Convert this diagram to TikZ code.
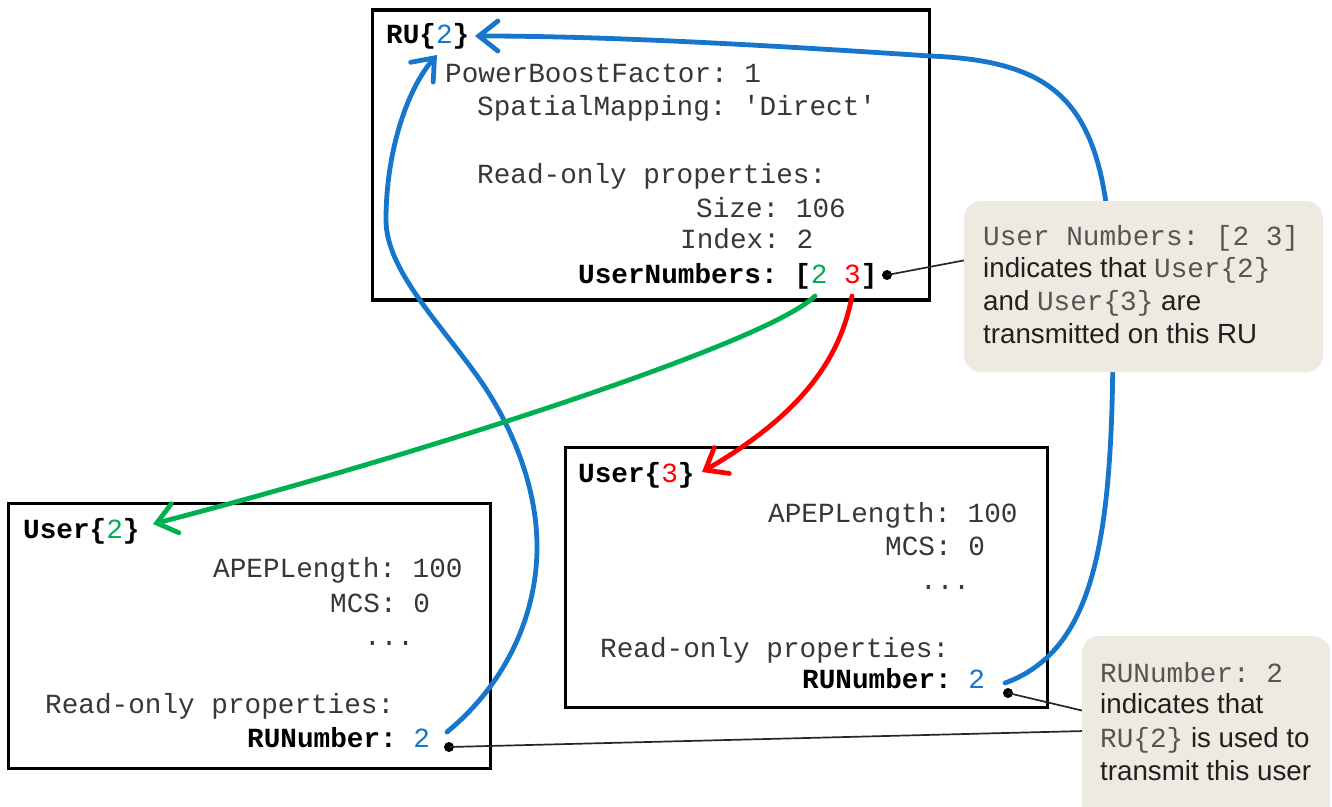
\documentclass[tikz,border=0pt]{standalone}
\usepackage{fontspec}
\setmainfont{Liberation Sans}
\setsansfont{Liberation Sans}
\setmonofont{Liberation Mono}
\usetikzlibrary{arrows.meta}
\definecolor{cblue}{RGB}{22,118,204}
\definecolor{cgreen}{RGB}{0,176,80}
\definecolor{cred}{RGB}{255,0,0}
\definecolor{tgray}{RGB}{55,55,55}
\definecolor{cgray}{RGB}{85,85,85}
\definecolor{callfill}{RGB}{237,235,225}
\tikzset{
  mono/.style={anchor=base west, inner sep=0pt, font=\ttfamily\fontsize{27.7pt}{33pt}\selectfont, text=tgray},
  cmono/.style={anchor=base west, inner sep=0pt, font=\ttfamily\fontsize{27.7pt}{33pt}\selectfont, text=cgray},
  sans/.style={anchor=base west, inner sep=0pt, font=\sffamily\fontsize{27.7pt}{33pt}\selectfont, text=black!88},
  box/.style={draw=black, line width=3.5pt, fill=white, inner sep=0pt},
  callout/.style={fill=callfill, rounded corners=17pt, inner sep=0pt},
  link/.style={line width=4.8pt, line cap=round, -{Straight Barb[length=19pt,width=30pt,line cap=round]}},
  pointer/.style={line width=1.7pt, draw=black!85},
  dot/.style={circle, fill=black, inner sep=0pt, minimum size=10pt}
}
\begin{document}
\begin{tikzpicture}[x=1pt,y=-1pt]
\useasboundingbox (0,0) rectangle (1332,806);
\clip (0,0) rectangle (1332,806);

% boxes
\node[box, minimum width=557pt, minimum height=290pt] (ru) at (651,155) {};
\node[box, minimum width=482pt, minimum height=265pt] (u2) at (249.5,636) {};
\node[box, minimum width=482pt, minimum height=260pt] (u3) at (806.5,577.5) {};

% RU box text
\node[mono] (ruT) at (386,43) {\bfseries\color{black}RU\{{\mdseries\color{cblue}2}\}};
\node[mono] (ruA) at (445,82) {PowerBoostFactor: 1};
\node[mono] (ruB) at (477,115) {SpatialMapping: \textquotesingle Direct\textquotesingle};
\node[mono] (ruC) at (477,183) {Read-only properties:};
\node[mono] (ruD) at (696,217) {Size: 106};
\node[mono] (ruE) at (680,248) {Index: 2};
\node[mono] (ruF) at (578,283) {{\bfseries\color{black}UserNumbers: [}{\color{cgreen}2} {\color{cred}3}{\bfseries\color{black}]}};

% User{2} box text
\node[mono] (u2T) at (23,538) {\bfseries\color{black}User\{{\mdseries\color{cgreen}2}\}};
\node[mono] (u2A) at (213,577) {APEPLength: 100};
\node[mono] (u2B) at (330,612) {MCS: 0};
\node[mono] (u2C) at (364,645) {...};
\node[mono] (u2D) at (45,713) {Read-only properties:};
\node[mono] (u2E) at (247,747) {{\bfseries\color{black}RUNumber:} {\color{cblue}2}};

% User{3} box text
\node[mono] (u3T) at (578,482) {\bfseries\color{black}User\{{\mdseries\color{cred}3}\}};
\node[mono] (u3A) at (768,522) {APEPLength: 100};
\node[mono] (u3B) at (885,555) {MCS: 0};
\node[mono] (u3C) at (920,589) {...};
\node[mono] (u3D) at (600,657) {Read-only properties:};
\node[mono] (u3E) at (802,688) {{\bfseries\color{black}RUNumber:} {\color{cblue}2}};

% anchor coordinates
\coordinate (b1s) at (447,732);
\coordinate (b1e) at (437,55);
\coordinate (b2s) at (1005,683);
\coordinate (b2e) at (475,36);
\coordinate (gs) at (815,296);
\coordinate (ge) at (153,524);
\coordinate (rs) at (852,296);
\coordinate (re) at (702,472);

% colored connectors
\draw[link, draw=cblue] (b1s) .. controls (510,680) and (537,610) .. (537,547)
   .. controls (537,482) and (508,420) .. (480,380)
   .. controls (440,323) and (386,270) .. (386,220)
   .. controls (386,150) and (408,88) .. (b1e);
\draw[link, draw=cblue] (b2s) .. controls (1095,650) and (1113,540) .. (1113,330)
   .. controls (1113,120) and (1080,62) .. (930,56)
   .. controls (750,44) and (600,36) .. (b2e);
\draw[link, draw=cgreen] (gs) .. controls (765,345) and (400,460) .. (ge);
\draw[link, draw=cred] (rs) .. controls (840,360) and (800,415) .. (re);

% pointer lines
\node[dot] (d1) at (887,275) {};
\node[dot] (d2) at (449,747) {};
\node[dot] (d3) at (1008,693) {};
\coordinate (p1) at (966,260);
\coordinate (p2) at (1084,731);
\coordinate (p3) at (1084,711);
\draw[pointer] (d1.center) -- (p1);
\draw[pointer] (d2.center) -- (p2);
\draw[pointer] (d3.center) -- (p3);

% callouts
\node[callout, minimum width=359pt, minimum height=171pt] (c1) at (1143.5,286.5) {};
\node[callout, minimum width=248pt, minimum height=200pt] (c2) at (1206,736) {};

\node[cmono] (c1a) at (983,245) {User Numbers: [2 3]};
\node[sans] (c1b) at (983,277) {indicates that {\ttfamily\color{cgray}User\{2\}}};
\node[sans] (c1c) at (983,310) {and {\ttfamily\color{cgray}User\{3\}} are};
\node[sans] (c1d) at (983,343) {transmitted on this RU};

\node[cmono] (c2a) at (1100,682) {RUNumber: 2};
\node[sans] (c2b) at (1100,713) {indicates that};
\node[sans] (c2c) at (1100,747) {{\ttfamily\color{cgray}RU\{2\}} is used to};
\node[sans] (c2d) at (1100,780) {transmit this user};
\end{tikzpicture}
\end{document}
